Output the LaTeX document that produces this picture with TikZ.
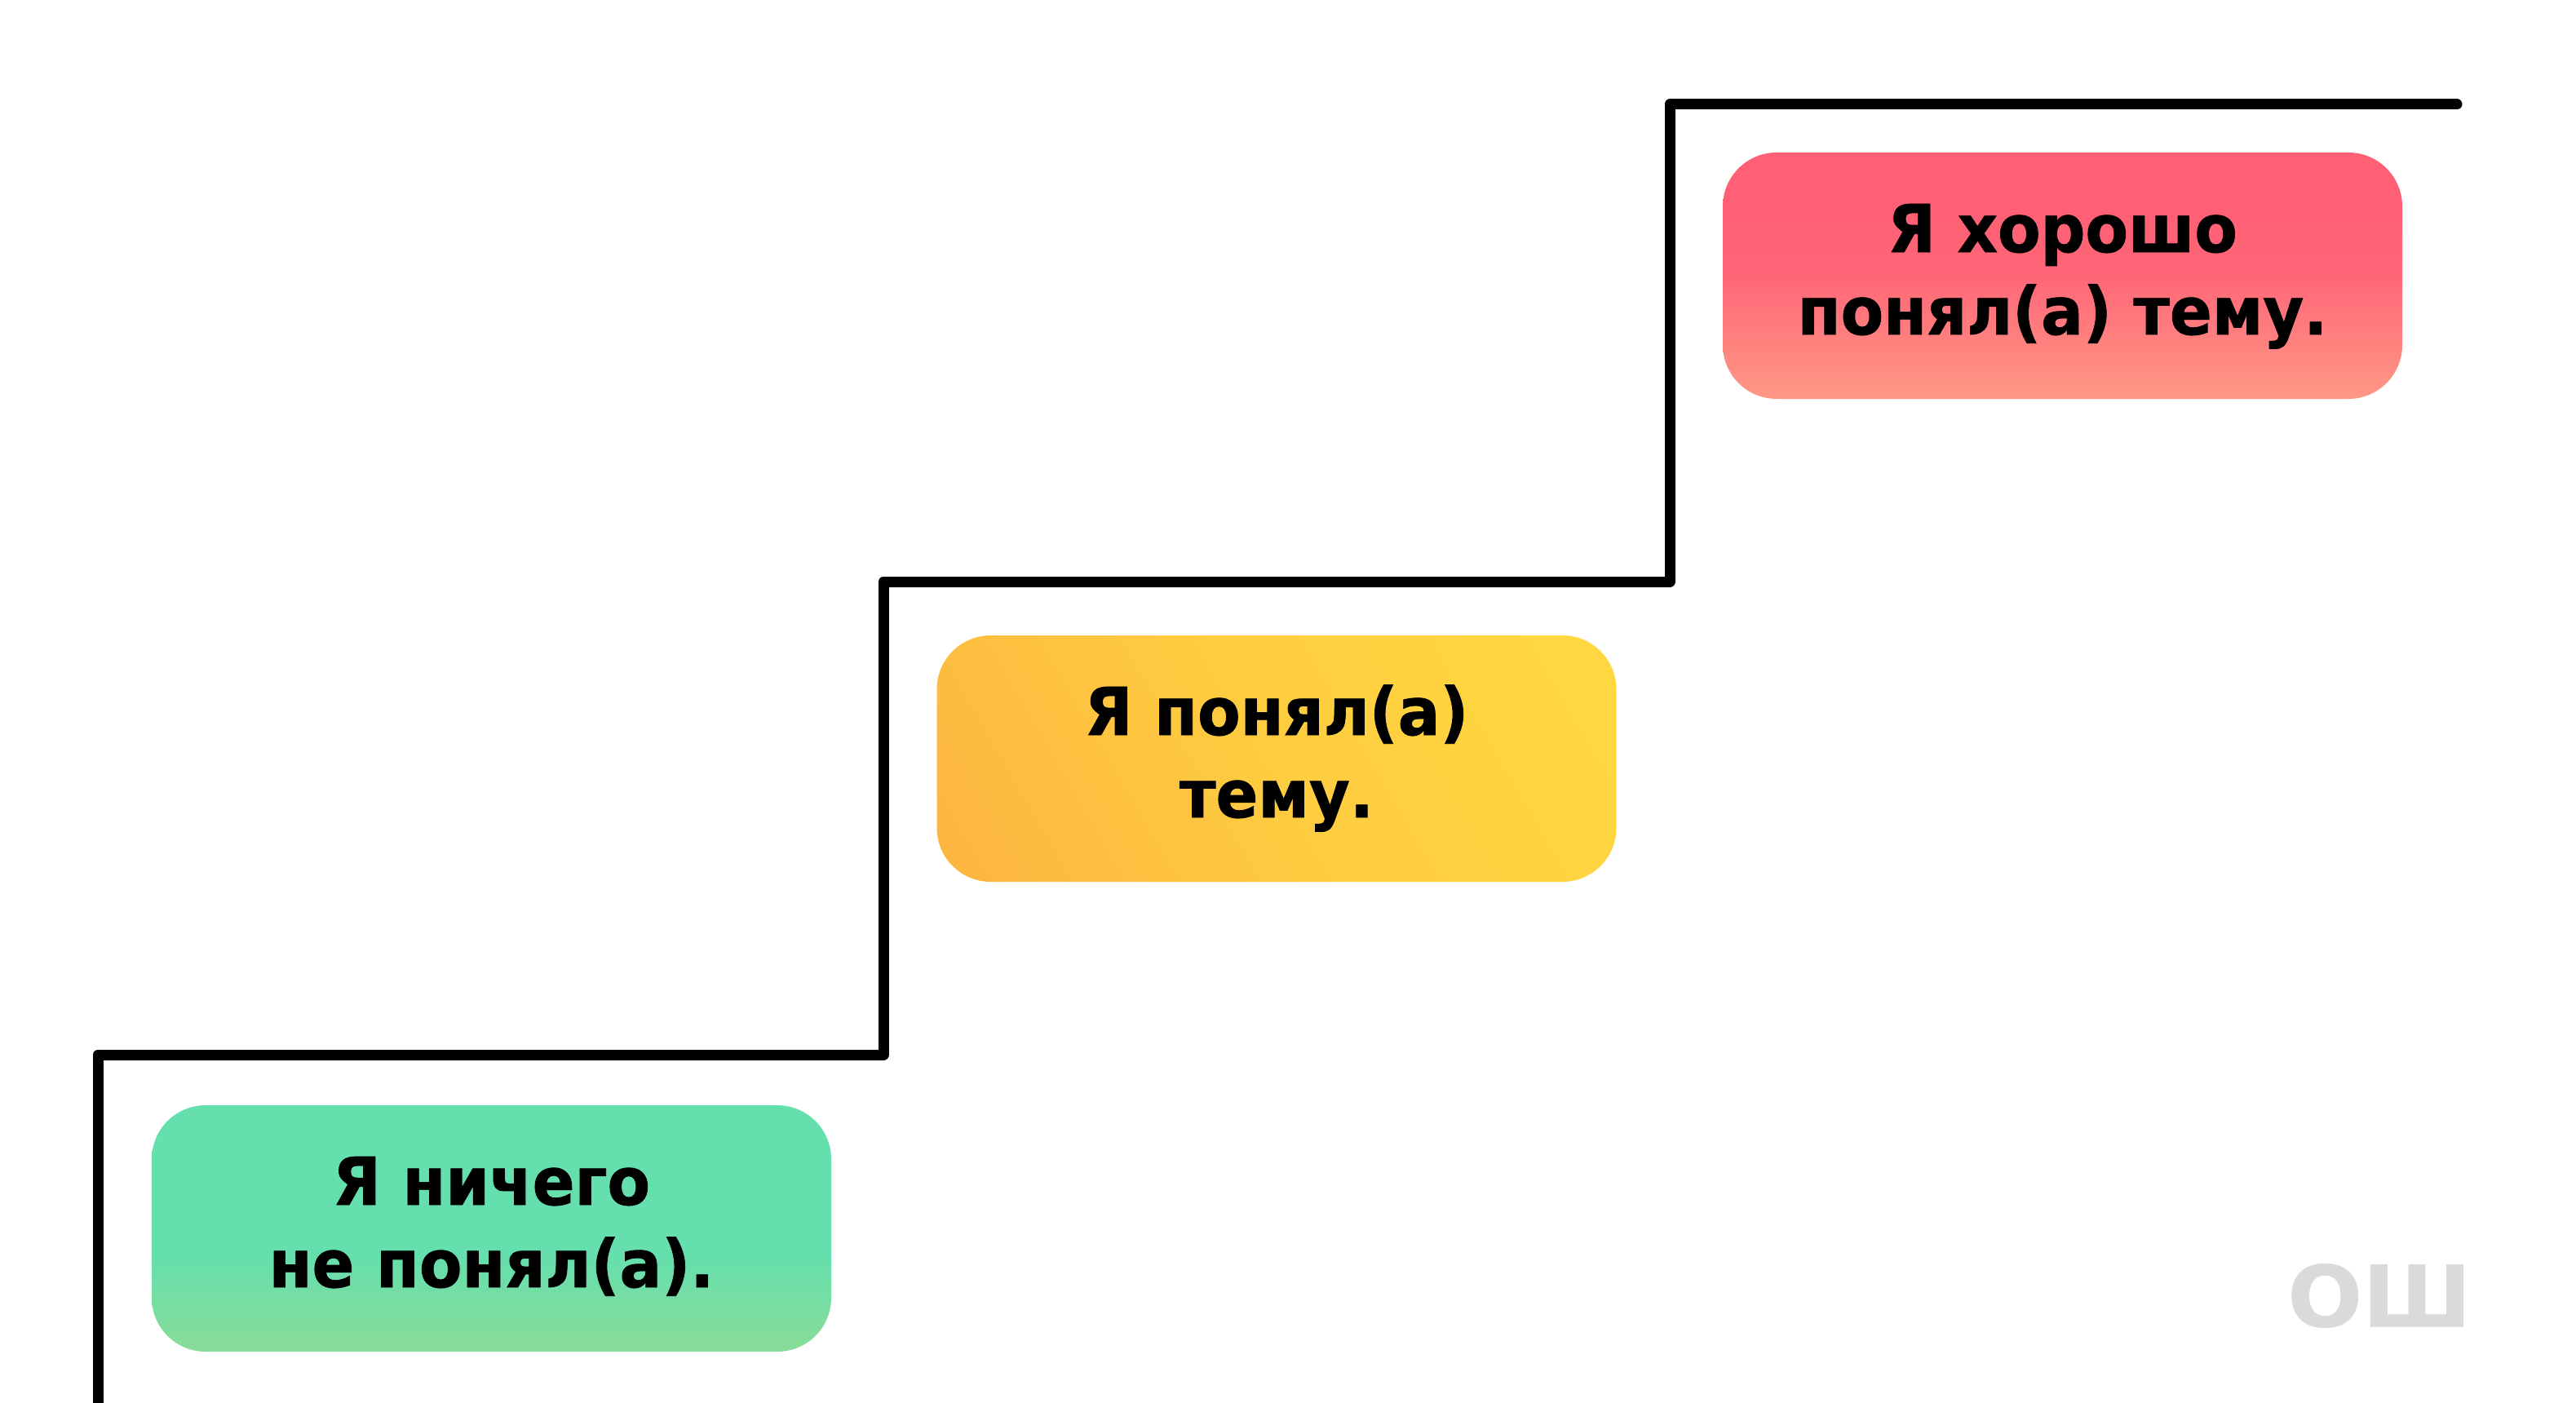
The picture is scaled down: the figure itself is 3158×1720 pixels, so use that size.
\documentclass[tikz,border=0pt]{standalone}
\usepackage{fontspec}
\setmainfont{DejaVu Sans}[BoldFeatures={FakeStretch=0.945, FakeBold=1}]
\newfontfamily\markfont{DejaVu Sans}[BoldFeatures={FakeStretch=1.04, FakeBold=0.6}]
\usetikzlibrary{positioning}
\definecolor{stepred}{HTML}{FF6075}
\definecolor{stepredlow}{HTML}{FF9886}
\definecolor{stepgreen}{HTML}{64DFAD}
\definecolor{stepgreenlow}{HTML}{8ADC98}
\definecolor{stepamber}{HTML}{FDB440}
\definecolor{stepyellow}{HTML}{FFD740}
\definecolor{markgray}{HTML}{DADADA}
\pgfdeclareverticalshading{redfade}{100bp}{
	color(0bp)=(stepredlow); color(25bp)=(stepredlow); color(50bp)=(stepred!88!stepredlow);
	color(62bp)=(stepred); color(75bp)=(stepred); color(100bp)=(stepred)}
\pgfdeclareverticalshading{greenfade}{100bp}{
	color(0bp)=(stepgreenlow); color(25bp)=(stepgreenlow); color(45bp)=(stepgreen);
	color(75bp)=(stepgreen); color(100bp)=(stepgreen)}
\pgfdeclareverticalshading{amberfade}{100bp}{
	color(0bp)=(stepyellow); color(22bp)=(stepyellow); color(50bp)=(stepamber!30!stepyellow);
	color(85bp)=(stepamber); color(100bp)=(stepamber)}
\tikzset{
	x=1pt,
	y=-1pt,
	stepbox/.style={rectangle, rounded corners=66pt, minimum width=833pt, minimum height=302pt,
		inner sep=0pt, align=center, text=black, font=\fontsize{81}{101}\selectfont\bfseries,
		text height=170pt, text depth=26pt},
	stairs/.style={line width=13pt, line cap=round, line join=round},
	baseline}

\begin{document}
\begin{tikzpicture}
		\useasboundingbox (0,0) rectangle (3158,1720);

		\node[stepbox, shading=greenfade] (low) at (602.5,1506) {Я ничего\\не понял(а).};
		\node[stepbox, shading=amberfade, shading angle=120] (mid) at (1565,930) {Я понял(а)\\тему.};
		\node[stepbox, shading=redfade] (high) at (2528.5,338) {Я хорошо\\понял(а) тему.};
		\node[text=markgray, font=\fontsize{104}{104}\selectfont\markfont\bfseries, anchor=south east, inner sep=0pt] (mark) at (3030,1628) {ОШ};

		\coordinate (s0) at (120,1720);
		\coordinate (s1) at (120,1293);
		\coordinate (s2) at (1083,1293);
		\coordinate (s3) at (1083,713);
		\coordinate (s4) at (2047,713);
		\coordinate (s5) at (2047,128);
		\coordinate (s6) at (3012,128);

		\draw[stairs] (s0) -- (s1) -- (s2) -- (s3) -- (s4) -- (s5) -- (s6);
	\end{tikzpicture}
\end{document}
